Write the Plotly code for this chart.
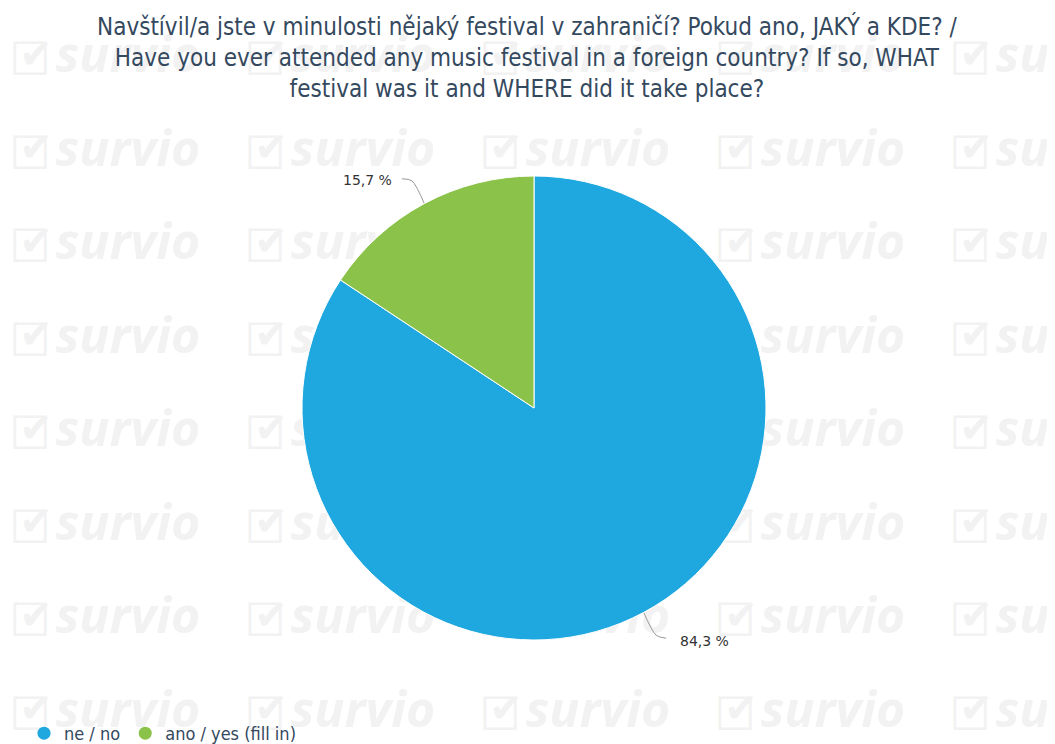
import math
import plotly.graph_objects as go

# ---- data ----
categories = ["ne / no", "ano / yes (fill in)"]
values = [84.3, 15.7]
value_labels = ["84,3 %", "15,7 %"]
colors = ["#1fa8e0", "#8bc34a"]
title_lines = [
    "Navštívil/a jste v minulosti nějaký festival v zahraničí? Pokud ano, JAKÝ a KDE? /",
    "Have you ever attended any music festival in a foreign country? If so, WHAT",
    "festival was it and WHERE did it take place?",
]

# ---- geometry (pixels, figure coordinates; page has an 8px body margin) ----
W, H = 1055, 744
OFF = 8
cx, cy, R = 534 - OFF, 408 - OFF, 232

fig = go.Figure()

# watermark (background decoration)
wm_cols = [k * 235 for k in range(5)]
wm_rows = [51.5 + k * 93.5 for k in range(8)]
bx, by, kx, ky, tx, ty = [], [], [], [], [], []
for r in wm_rows:
    for c in wm_cols:
        bx.append(c + 22); by.append(r + 4)
        kx.append(c + 28); ky.append(r - 2)
        tx.append(c + 120); ty.append(r)
wm_color = "#f2f2f2"
fig.add_trace(go.Scatter(x=bx, y=by, mode="text", text=["☐"] * len(bx),
                         textfont=dict(family="DejaVu Sans", size=46, color=wm_color),
                         hoverinfo="skip", showlegend=False))
fig.add_trace(go.Scatter(x=kx, y=ky, mode="text", text=["✔"] * len(kx),
                         textfont=dict(family="DejaVu Sans", size=40, color=wm_color),
                         hoverinfo="skip", showlegend=False))
fig.add_trace(go.Scatter(x=tx, y=ty, mode="text", text=["survio"] * len(tx),
                         textfont=dict(family="Open Sans", size=50, color=wm_color,
                                       weight="bold", style="italic"),
                         hoverinfo="skip", showlegend=False))

# pie
fig.add_trace(go.Pie(
    labels=categories, values=values, sort=False, direction="clockwise", rotation=0,
    marker=dict(colors=colors, line=dict(color="white", width=1)),
    textinfo="none", hoverinfo="label+percent", showlegend=False,
    domain=dict(x=[(cx - R) / W, (cx + R) / W], y=[(H - cy - R) / H, (H - cy + R) / H]),
))

# leader lines + labels computed from values
total = sum(values)
cum = 0.0
for v, lab in zip(values, value_labels):
    mid = (cum + v / 2) / total * 2 * math.pi
    cum += v
    dx, dy = math.sin(mid), -math.cos(mid)
    x0, y0 = cx + (R - 2) * dx, cy + (R - 2) * dy
    x1, y1 = cx + (R + 26) * dx, cy + (R + 26) * dy
    side = 1 if dx >= 0 else -1
    x2, y2 = x1 + side * 10, y1 + (3 if dy > 0 else -2)
    fig.add_trace(go.Scatter(x=[x0, x1, x2], y=[y0, y1, y2], mode="lines",
                             line=dict(color="#999999", width=1, shape="spline", smoothing=0.8),
                             hoverinfo="skip", showlegend=False))
    gap = 12 if side > 0 else 8
    fig.add_annotation(x=x2 + side * gap, y=y2 + (3 if dy > 0 else 1), xref="x", yref="y",
                       text=lab, showarrow=False, xanchor="left" if side > 0 else "right",
                       font=dict(family="DejaVu Sans", size=14, color="#333333"))

# legend entries (circle markers)
for name, col in zip(categories, colors):
    fig.add_trace(go.Scatter(x=[None], y=[None], mode="markers", name=name,
                             marker=dict(color=col, size=13, symbol="circle")))

fig.add_annotation(x=(527 - OFF) / W, y=1 - 2 / H, xref="paper", yref="paper", yanchor="top",
                   text="<br>".join(title_lines), showarrow=False, align="center",
                   font=dict(family="DejaVu Sans Condensed, DejaVu Sans", size=24, color="#34495e"))

fig.update_layout(
    width=W, height=H,
    margin=dict(l=0, r=0, t=0, b=0),
    paper_bgcolor="white", plot_bgcolor="white",
    xaxis=dict(range=[0, W], visible=False, fixedrange=True, domain=[0, 1]),
    yaxis=dict(range=[H, 0], visible=False, fixedrange=True, domain=[0, 1]),
    showlegend=True,
    legend=dict(orientation="h", x=(24 - OFF) / W, y=0, xanchor="left", yanchor="bottom",
                font=dict(family="DejaVu Sans Condensed, DejaVu Sans", size=18, color="#34495e"),
                bgcolor="rgba(0,0,0,0)", itemwidth=30),
)

fig.write_html("out.html")
